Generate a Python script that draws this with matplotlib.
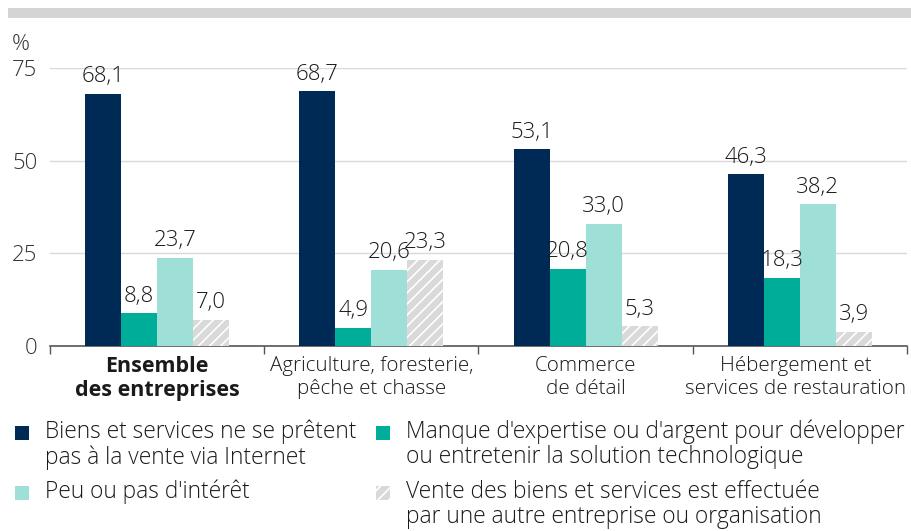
import matplotlib
matplotlib.use("Agg")
import matplotlib.pyplot as plt
from matplotlib.patches import Rectangle
import numpy as np

plt.rcParams["font.family"] = ["Open Sans", "DejaVu Sans"]
plt.rcParams["font.weight"] = 300
plt.rcParams["hatch.color"] = "white"
plt.rcParams["hatch.linewidth"] = 1.2

#data
categories = ["Ensemble\ndes entreprises",
              "Agriculture, foresterie,\npêche et chasse",
              "Commerce\nde détail",
              "Hébergement et\nservices de restauration"]

biens_pas_vente = [68.1, 68.7, 53.1, 46.3]
manque_expertise = [8.8, 4.9, 20.8, 18.3]
peu_interet = [23.7, 20.6, 33.0, 38.2]
vente_autre = [7.0, 23.3, 5.3, 3.9]

series_names = ["Biens et services ne se prêtent\npas à la vente via Internet",
                "Manque d'expertise ou d'argent pour développer\nou entretenir la solution technologique",
                "Peu ou pas d'intérêt",
                "Vente des biens et services est effectuée\npar une autre entreprise ou organisation"]

yticks = [0, 25, 50, 75]

#_____________________________________________________________________________
def main():

    col_dark = "#002a56"
    col_teal = "#00ad98"
    col_light = "#9ee0d8"
    col_hatch = "#d9d9d9"
    txt = "#1a1a1a"

    fig = plt.figure(figsize=(9.12, 5.31), dpi=100)

    #grey band on top
    fig.patches.append(Rectangle((8/912, 1-18/531), 904/912, 10/531,
                                 transform=fig.transFigure, color="#d4d4d4", lw=0))

    ax = fig.add_axes([50/912, 1-346/531, 857/912, 278/531])

    x = np.arange(len(categories))
    w = 0.168
    series = [biens_pas_vente, manque_expertise, peu_interet, vente_autre]
    cols = [col_dark, col_teal, col_light, col_hatch]

    for i, (vals, c) in enumerate(zip(series, cols)):
        xs = x + (i-1.5)*w
        if i == 3:
            ax.bar(xs, vals, w, color=c, hatch="///", edgecolor="white", lw=0, zorder=3)
        else:
            ax.bar(xs, vals, w, color=c, lw=0, zorder=3)
        for xx, v in zip(xs, vals):
            ax.text(xx, v+1.8, ("%.1f" % v).replace(".", ","), ha="center", va="bottom",
                    fontsize=16, color=txt, clip_on=False, zorder=4)

    ax.set_xlim(-0.5, 3.5)
    ax.set_ylim(0, 75)
    ax.set_yticks(yticks)
    ax.set_yticklabels([str(t) for t in yticks], fontsize=16, color="#333333")
    ax.tick_params(axis="y", length=0, pad=9)
    ax.yaxis.grid(True, color="#d9d9d9", lw=1)
    ax.set_axisbelow(True)

    #category boundary ticks
    ax.set_xticks([-0.5, 0.5, 1.5, 2.5, 3.5])
    ax.set_xticklabels([])
    ax.tick_params(axis="x", length=6, width=1, color="#555555")

    for sp in ["top", "right", "left"]:
        ax.spines[sp].set_visible(False)
    ax.spines["bottom"].set_color("#555555")
    ax.spines["bottom"].set_linewidth(1.2)

    #last label nudged left a bit so it stays inside the figure
    lab_x = [0, 1, 2, 2.98]
    for i, lab in enumerate(categories):
        ax.text(lab_x[i], -2.6, lab, ha="center", va="top",
                fontsize=15.5 if i == 0 else 14.8, color=txt,
                fontweight="bold" if i == 0 else 300, linespacing=1.2)

    fig.text(12/912, 1-45/531, "%", fontsize=16, color="#333333", va="center")

    #legend
    leg = [(22, 433, col_dark, None), (383, 433, col_teal, None),
           (22, 493, col_light, None), (383, 493, col_hatch, "///")]
    for (px, py, c, h), name in zip(leg, series_names):
        fig.patches.append(Rectangle((px/912 - 7/912, 1-(py+7)/531), 14/912, 14/531,
                                     transform=fig.transFigure, facecolor=c,
                                     hatch=h, edgecolor="white" if h else c, lw=0))
        fig.text((px+23)/912, 1-(py-13)/531, name, fontsize=16.4, color=txt,
                 va="top", ha="left", linespacing=1.05)

    fig.savefig("out.png", dpi=100)
    plt.close()

#main

#_____________________________________________________________________________
if __name__ == "__main__":

    main()
